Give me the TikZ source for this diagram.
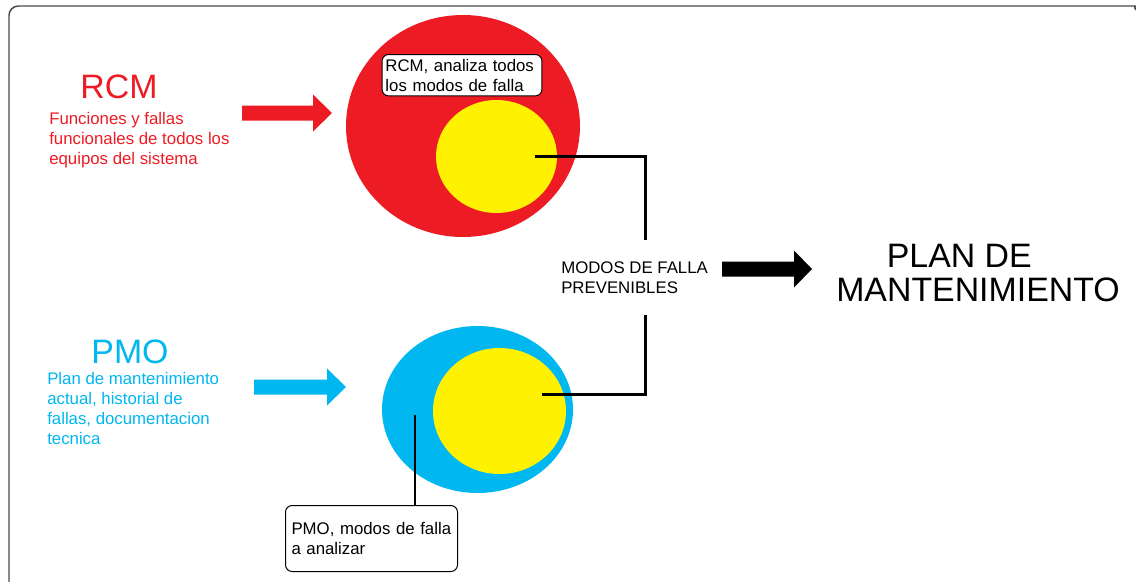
\documentclass[tikz,border=0pt]{standalone}
\usepackage{fontspec}
\setmainfont{Liberation Sans}
\usetikzlibrary{shapes.geometric,positioning}
\definecolor{rcmred}{HTML}{ED1C24}
\definecolor{pmoblue}{HTML}{00B7EF}
\definecolor{coreyellow}{HTML}{FFF200}
\definecolor{framegray}{HTML}{4A4A4A}
\newcommand{\notefont}{\fontsize{12.6}{15}\selectfont}
\newcommand{\headfont}{\fontsize{25.4}{25.5}\selectfont}
\begin{document}
\begin{tikzpicture}
[x=0.75pt,y=-0.75pt,
  blobdecorate/.style={shape=ellipse,inner sep=0pt},
  notedecorate/.style={draw,rounded corners=5pt,fill=white,line width=0.75pt,
    anchor=north west,align=left,font=\notefont},
  textdecorate/.style={anchor=north west,align=left,inner sep=0pt,font=\notefont},
  headdecorate/.style={anchor=base,inner sep=0pt,font=\headfont},
  linkdecorate/.style={line width=2.25pt},
  framedecorate/.style={draw=framegray,line width=1.1pt,rounded corners=7}]
\useasboundingbox[fill=white] (0,0) rectangle (1136,582);
\draw[framedecorate] (9,590) -- (9,6) -- (1130,6) to[out=0,in=120] (1136,10);
%% circles
\node (rcm) at (463,126) [blobdecorate,fill=rcmred,
  minimum width=175.5pt,minimum height=166.5pt] {};
\node (rcmcore) at (496.5,156.5) [blobdecorate,fill=coreyellow,
  minimum width=90.75pt,minimum height=84.75pt] {};
\node (pmo) at (477.5,409.5) [blobdecorate,fill=pmoblue,
  minimum width=143.25pt,minimum height=125.25pt] {};
\node (pmocore) at (499.5,411) [blobdecorate,fill=coreyellow,
  minimum width=99.75pt,minimum height=94.5pt] {};
%% texts
\node (rcmtitle) at (119,98) [headdecorate,text=rcmred] {RCM};
\node (rcmtext) at (49,112.5) [textdecorate,text=rcmred]
  {Funciones y fallas\\funcionales de todos los\\equipos del sistema};
\node (pmotitle) at (130,363) [headdecorate,text=pmoblue] {PMO};
\node (pmotext) at (47,372.5) [textdecorate,text=pmoblue]
  {Plan de mantenimiento\\actual, historial de\\fallas, documentacion\\tecnica};
\node (modos) at (561,261) [textdecorate] {MODOS DE FALLA\\PREVENIBLES};
\node (plan) at (978,243.5) [anchor=north,align=center,inner sep=0pt,font=\headfont]
  {PLAN DE\hspace*{28pt}\\MANTENIMIENTO};
\node (rcmnote) at (381.5,54) [notedecorate,text width=114.75pt,
  inner xsep=2.6pt,inner ysep=3.4pt]
  {RCM, analiza todos\\los modos de falla};
\node (pmonote) at (285,505) [notedecorate,text width=120pt,
  inner xsep=4.5pt,minimum height=49.5pt]
  {PMO, modos de falla\\a analizar};
%% block arrows
\foreach \tx/\ty/\len/\hl/\col in {242/113/90/19/rcmred,
  254/387/92/19/pmoblue, 722/269/90/18/black} {
  \fill[\col] (\tx,\ty) ++(0,-7.5) -- ++(\len-\hl,0) -- ++(0,-11)
    -- ++(\hl,18.5) -- ++(-\hl,18.5) -- ++(0,-11) -- ++(\hl-\len,0) -- cycle;
}
%% connectors
\coordinate (rcmtap) at (535,156);
\coordinate (uppertop) at (645,240);
\coordinate (pmotap) at (542,394);
\coordinate (lowertop) at (645,315);
\coordinate (pmopoint) at (415,415);
\draw[linkdecorate] (rcmtap) -| (uppertop);
\draw[linkdecorate] (pmotap) -| (lowertop);
\draw[line width=1.6pt] (pmopoint) -- (pmopoint |- pmonote.north);
\end{tikzpicture}
\end{document}
